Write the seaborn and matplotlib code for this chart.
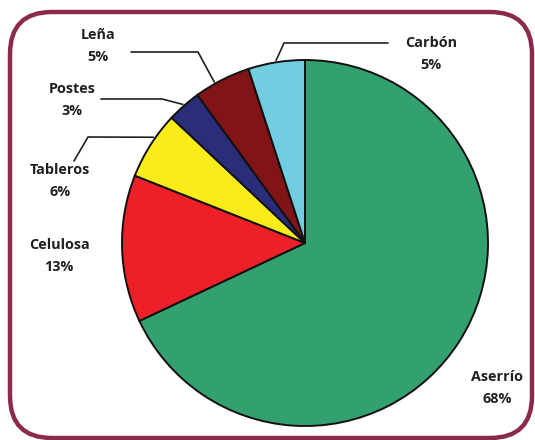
# Gráfico de pizza: destino da madeira (percentuais)
import numpy as np
import seaborn as sns
import matplotlib.pyplot as plt
from matplotlib.patches import FancyBboxPatch

# Dados
categorias = ['Aserrío', 'Celulosa', 'Tableros', 'Postes', 'Leña', 'Carbón']
porcentagens = [68, 13, 6, 3, 5, 5]
cores = ['#33A06F', '#EE2027', '#F9EC1A', '#2A2D7A', '#801416', '#72CDE0']

W, H = 535, 440

sns.set_theme(style='white')
plt.rcParams['font.family'] = ['Open Sans', 'DejaVu Sans']

fig = plt.figure(figsize=(W / 100, H / 100), dpi=100)
ax = fig.add_axes([0, 0, 1, 1])


def fy(y):
    # converte coordenada de pixel (origem no topo) para dados
    return H - y


centro = (305, fy(243))
raio = 183
wedges, _ = ax.pie(porcentagens, colors=cores, startangle=90, counterclock=False,
                   center=centro, radius=raio,
                   wedgeprops=dict(edgecolor='#111111', linewidth=1.4))

ax.set_xlim(0, W)
ax.set_ylim(0, H)
ax.set_aspect('equal')
ax.axis('off')

# Moldura arredondada
moldura = FancyBboxPatch((10, fy(438)), 522, 426,
                         boxstyle='round,pad=0,rounding_size=42',
                         facecolor='none', edgecolor='#8B2A4A', linewidth=3.2,
                         clip_on=False, zorder=0)
ax.add_patch(moldura)

# Posições dos rótulos (centro do bloco de texto), linhas guia e ajuste de ângulo
rotulos = {
    'Aserrío': (497, 388, None, 0),
    'Celulosa': (59, 256, None, 0),
    'Tableros': (60, 181, [(88, 137), (74, 161)], 2.5),
    'Postes': (72, 100, [(162, 99), (101, 99)], 0),
    'Leña': (98, 46, [(198, 52), (131, 52)], -2.4),
    'Carbón': (431, 54, [(284, 43), (388, 43)], 0),
}

inicio = 0
for cat, val in zip(categorias, porcentagens):
    meio = inicio + val / 2
    inicio += val
    tx, ty, guia, ajuste = rotulos[cat]
    ax.text(tx, fy(ty), f'{cat}\n{val}%', ha='center', va='center',
            fontsize=10.4, fontweight='bold', color='#231F20', linespacing=1.65)
    if guia:
        ang = np.deg2rad(90 - (meio / 100 * 360 + ajuste))
        r = raio * 1.01
        ax_ = centro[0] + r * np.cos(ang)
        ay_ = centro[1] + r * np.sin(ang)
        xs = [ax_] + [p[0] for p in guia]
        ys = [ay_] + [fy(p[1]) for p in guia]
        ax.plot(xs, ys, color='#231F20', linewidth=1.2)

fig.savefig('out.png', dpi=100, facecolor='white')
